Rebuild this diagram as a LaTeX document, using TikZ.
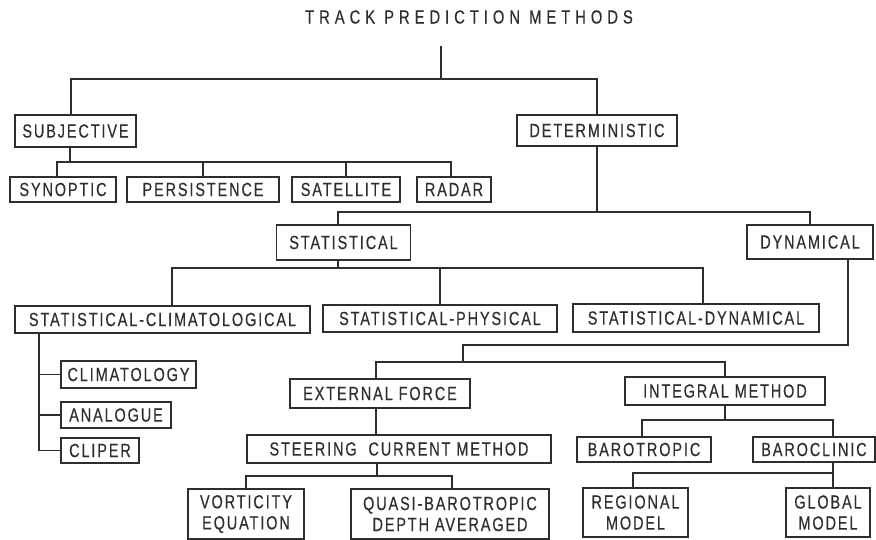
\documentclass[tikz,border=0pt]{standalone}
\usepackage{fontspec}
\usepackage{tikz}
\usetikzlibrary{calc}

\newfontfamily\boxfont[FakeStretch=0.76,LetterSpace=10,FakeBold=0.4]{Liberation Sans}
\newfontfamily\titlefont[FakeStretch=0.78,LetterSpace=26,FakeBold=0.4]{Liberation Sans}
\definecolor{ink}{HTML}{2E2E2E}

\tikzset{
  box/.style={draw=ink, line width=1.3pt, inner sep=0pt, align=center,
    text=ink, font=\boxfont\fontsize{19}{21}\selectfont},
  link/.style={draw=ink, line width=1.3pt}
}

\begin{document}
\begin{tikzpicture}[x=1pt,y=-1pt]
\useasboundingbox (0,0) rectangle (876,540);

% === Title ===
\node[text=ink,font=\titlefont\fontsize{19}{21}\selectfont] (title) at (469,17) {TRACK PREDICTION METHODS};

% === Level 1 ===
\node[box,minimum width=121,minimum height=32] (subj) at (75.5,131) {SUBJECTIVE};
\node[box,minimum width=160,minimum height=31] (det) at (597,130.5) {DETERMINISTIC};

% === Subjective methods ===
\node[box,minimum width=106,minimum height=25] (syn) at (63,189.5) {SYNOPTIC};
\node[box,minimum width=152,minimum height=25] (pers) at (203,189.5) {PERSISTENCE};
\node[box,minimum width=108,minimum height=25] (sat) at (346,189.5) {SATELLITE};
\node[box,minimum width=74,minimum height=25] (radar) at (454,189.5) {RADAR};

% === Deterministic methods ===
\node[box,minimum width=134,minimum height=35] (stat) at (343.5,242.5) {STATISTICAL};
\node[box,minimum width=126,minimum height=34] (dyn) at (810,242) {DYNAMICAL};

% === Statistical branch ===
\node[box,minimum width=295,minimum height=27] (sclim) at (162.5,319.5) {STATISTICAL-CLIMATOLOGICAL};
\node[box,minimum width=234,minimum height=27] (sphys) at (440,318.5) {STATISTICAL-PHYSICAL};
\node[box,minimum width=246,minimum height=28] (sdyn) at (696,318) {STATISTICAL-DYNAMICAL};

\node[box,minimum width=135,minimum height=27] (clim) at (128.5,374.5) {CLIMATOLOGY};
\node[box,minimum width=110,minimum height=26] (anal) at (116,415) {ANALOGUE};
\node[box,minimum width=78,minimum height=25] (clip) at (100,450.5) {CLIPER};

% === Dynamical branch ===
\node[box,minimum width=180,minimum height=29] (ext) at (380,393.5) {EXTERNAL FORCE};
\node[box,minimum width=200,minimum height=28] (integ) at (725,391) {INTEGRAL METHOD};
\node[box,minimum width=304,minimum height=28] (steer) at (399,449) {STEERING\ \ CURRENT METHOD};
\node[box,minimum width=116,minimum height=50] (vort) at (246,514) {VORTICITY\\EQUATION};
\node[box,minimum width=198,minimum height=50] (quasi) at (450,514) {QUASI-BAROTROPIC\\DEPTH AVERAGED};
\node[box,minimum width=134,minimum height=25] (barot) at (644,449.5) {BAROTROPIC};
\node[box,minimum width=122,minimum height=25] (baroc) at (814,449.5) {BAROCLINIC};
\node[box,minimum width=105,minimum height=49] (reg) at (635.5,512.5) {REGIONAL\\MODEL};
\node[box,minimum width=84,minimum height=49] (glob) at (828,512.5) {GLOBAL\\MODEL};

% === Bus junctions ===
\coordinate (b1) at (441,79);
\coordinate (b2) at (70,162);
\coordinate (b3) at (597,212);
\coordinate (b4) at (338,268);
\coordinate (b5) at ([xshift=-123.5pt]sclim.south);
\coordinate (b6a) at (463,345);
\coordinate (b6) at (463,362);
\coordinate (b8) at (377,476);
\coordinate (b9) at (725,420);
\coordinate (b10) at (833,473);

% === Connectors ===
\draw[link,shorten <=19pt] (b1 |- title.south) -- (b1);
\draw[link] ([xshift=-4.5pt]subj.north) |- (b1) -| (det.north);

\draw[link] ([xshift=-5.5pt]subj.south) -- (b2);
\draw[link] ([xshift=-6pt]syn.north) |- (b2) -| ([xshift=-3pt]radar.north);
\draw[link] (pers.north) -- (pers.north |- b2);
\draw[link] (sat.north) -- (sat.north |- b2);

\draw[link] (det.south) -- (b3);
\draw[link] ([xshift=-5.5pt]stat.north) |- (b3) -| (dyn.north);

\draw[link] ([xshift=-5.5pt]stat.south) -- (b4);
\draw[link] ([xshift=9.5pt]sclim.north) |- (b4) -| ([xshift=7pt]sdyn.north);
\draw[link] (sphys.north) -- (sphys.north |- b4);

\draw[link] (b5) |- (clip.west);
\draw[link] (clim.west) -- (clim.west -| b5);
\draw[link] (anal.west) -- (anal.west -| b5);

\draw[link] ([xshift=38pt]dyn.south) |- (b6a) -- (b6);
\draw[link] ([xshift=-4pt]ext.north) |- (b6) -| (integ.north);

\draw[link] ([xshift=-4pt]ext.south) -- ([xshift=-23pt]steer.north);
\draw[link] ([xshift=-22pt]steer.south) -- (b8);
\draw[link] (vort.north) |- (b8) -| ([xshift=2pt]quasi.north);

\draw[link] (integ.south) -- (b9);
\draw[link] ([xshift=-2pt]barot.north) |- (b9) -| ([xshift=19pt]baroc.north);

\draw[link] ([xshift=19pt]baroc.south) -- (b10);
\draw[link] ([xshift=-2.5pt]reg.north) |- (b10) -| ([xshift=5pt]glob.north);

\end{tikzpicture}
\end{document}
